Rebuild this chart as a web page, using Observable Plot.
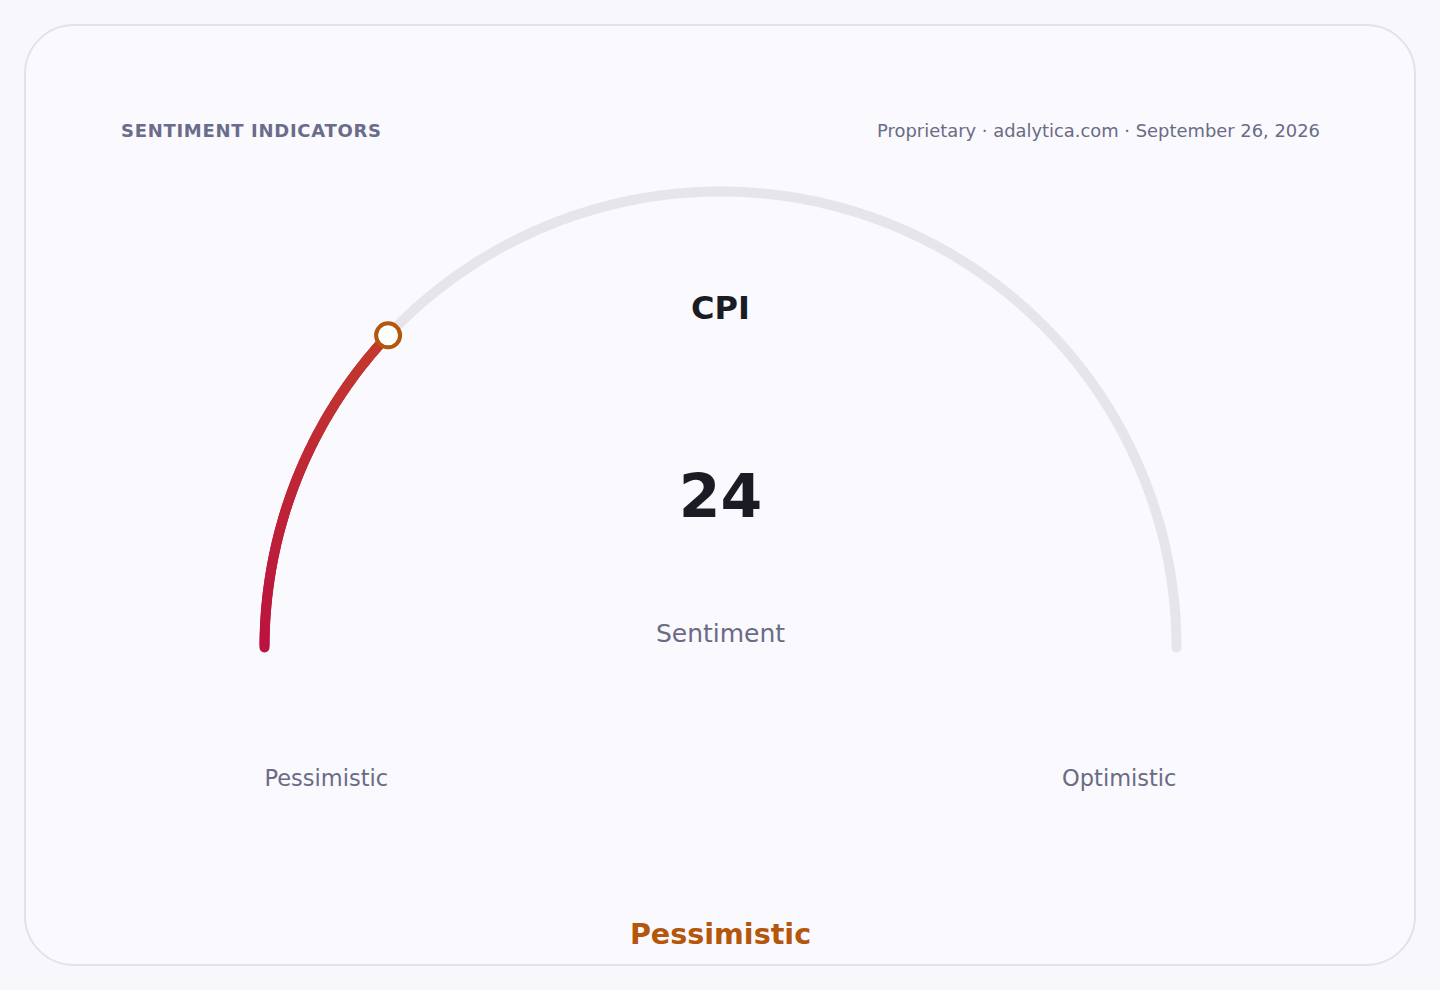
<!DOCTYPE html>
<html>
<head>
<meta charset="utf-8">
<script src="https://cdn.jsdelivr.net/npm/d3@7"></script>
<script src="https://cdn.jsdelivr.net/npm/@observablehq/plot@0.6"></script>
<style>
  html, body { margin: 0; padding: 0; background: #f8f8fc; width: 1440px; height: 990px; overflow: hidden; }
  body { position: relative; font-family: "DejaVu Sans", sans-serif; }
  #card { position: absolute; left: 24px; top: 24px; width: 1392px; height: 942px; box-sizing: border-box;
          border: 2px solid #e2e2ee; border-radius: 50px; background: #f9f9fe; }
  #header { position: absolute; left: 121px; top: 122px; font-size: 18px; line-height: 18px; font-weight: bold;
            letter-spacing: 0.7px; color: #6b6b8a; }
  #meta { position: absolute; right: 120px; top: 122px; font-size: 17.9px; line-height: 18px; color: #6b6b85; }
  #chart { position: absolute; left: 0; top: 0; }
</style>
</head>
<body>
<div id="card"></div>
<div id="header"></div>
<div id="meta"></div>
<div id="chart"></div>
<script>
// ---- data ----
const headerTitle = "SENTIMENT INDICATORS";
const metaText = "Proprietary · adalytica.com · September 26, 2026";
const gaugeName = "CPI";
const gaugeValue = 24;
const gaugeMin = 0;
const gaugeMax = 100;
const gaugeUnitLabel = "Sentiment";
const endLabels = ["Pessimistic", "Optimistic"];
const statusLabel = "Pessimistic";

document.getElementById("header").textContent = headerTitle;
document.getElementById("meta").textContent = metaText;

// value -> unit-circle position along the upper half (min at left, max at right)
const toAngle = v => Math.PI * (1 - (v - gaugeMin) / (gaugeMax - gaugeMin));
const pos = v => ({v, x: Math.cos(toAngle(v)), y: Math.sin(toAngle(v))});

const trackPts = d3.range(gaugeMin, gaugeMax + 0.001, 0.25).map(pos);
const valuePts = d3.range(gaugeMin, gaugeValue + 0.001, 0.2).map(pos);
const valueSegs = valuePts.slice(1).map((p, i) => ({x1: valuePts[i].x, y1: valuePts[i].y, x2: p.x, y2: p.y, v: p.v}));
const marker = [pos(gaugeValue)];
const center = [{x: 0, y: 0}];
const minEnd = [{...pos(gaugeMin), label: endLabels[0]}];
const maxEnd = [{...pos(gaugeMax), label: endLabels[1]}];

const color = d3.scaleLinear().domain([gaugeMin, gaugeValue]).range(["#bb1240", "#c23a2c"]);

const chart = Plot.plot({
  width: 1440,
  height: 990,
  margin: 0,
  style: {background: "transparent", fontFamily: "DejaVu Sans, sans-serif", overflow: "visible"},
  x: {domain: [-1, 1], range: [264, 1176], axis: null},
  y: {domain: [0, 1], range: [647, 191], axis: null},
  marks: [
    Plot.line(trackPts, {x: "x", y: "y", stroke: "#e5e5eb", strokeWidth: 10, strokeLinecap: "round"}),
    Plot.link(valueSegs, {x1: "x1", y1: "y1", x2: "x2", y2: "y2", stroke: d => color(d.v), strokeWidth: 10, strokeLinecap: "round"}),
    Plot.dot(marker, {x: "x", y: "y", r: 12, fill: "#ffffff", stroke: "#b4560c", strokeWidth: 4}),
    Plot.text(center, {x: "x", y: "y", text: () => gaugeName, dy: -339, fontSize: 32, fontWeight: "bold", fill: "#1b1b24", textAnchor: "middle"}),
    Plot.text(center, {x: "x", y: "y", text: () => String(gaugeValue), dy: -150, fontSize: 60, fontWeight: "bold", fill: "#1b1b24", textAnchor: "middle"}),
    Plot.text(center, {x: "x", y: "y", text: () => gaugeUnitLabel, dy: -14, fontSize: 25, fill: "#6b6b85", textAnchor: "middle"}),
    Plot.text(minEnd, {x: "x", y: "y", text: "label", textAnchor: "start", dy: 131, fontSize: 22.5, fill: "#6b6b85"}),
    Plot.text(maxEnd, {x: "x", y: "y", text: "label", textAnchor: "end", dy: 131, fontSize: 22.5, fill: "#6b6b85"}),
    Plot.text(center, {x: "x", y: "y", text: () => statusLabel, dy: 287, fontSize: 28.6, fontWeight: "bold", fill: "#b4560c", textAnchor: "middle"})
  ]
});
document.getElementById("chart").appendChild(chart);
</script>
</body>
</html>
